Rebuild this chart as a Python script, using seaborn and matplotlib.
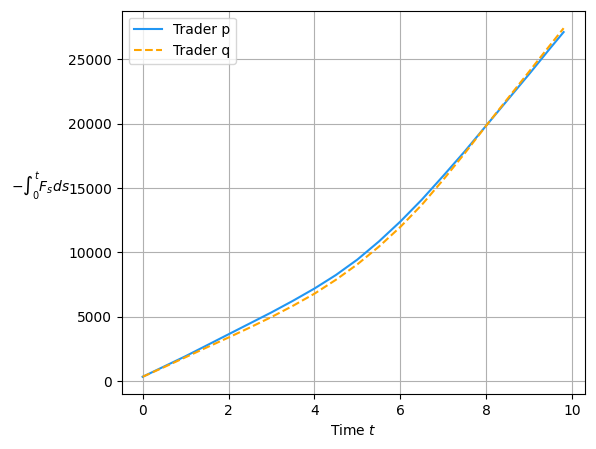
import pandas as pd
import numpy as np
import matplotlib
matplotlib.use("Agg")
import matplotlib.pyplot as plt
import seaborn as sns

# time grid and cumulative values
t = [0, 0.5, 1, 1.5, 2, 2.5, 3, 3.5, 4, 4.5, 5, 5.5, 6, 6.5, 7, 7.5, 8, 8.5, 9, 9.5, 9.8]
trader_p = [350, 1150, 1950, 2800, 3650, 4500, 5350, 6250, 7200, 8250, 9450, 10850,
            12400, 14100, 15950, 17850, 19850, 21850, 23850, 25900, 27100]
trader_q = [350, 1100, 1870, 2640, 3400, 4180, 4990, 5860, 6800, 7880, 9080, 10450,
            11980, 13700, 15650, 17700, 19850, 21950, 24050, 26150, 27400]

df = pd.DataFrame({"t": t, "p": trader_p, "q": trader_q})

fig, ax = plt.subplots(figsize=(5.96, 4.49), dpi=100)
fig.subplots_adjust(left=0.204, right=0.981, top=0.976, bottom=0.122)

sns.lineplot(data=df, x="t", y="p", ax=ax, color="#2196f3", label="Trader p")
sns.lineplot(data=df, x="t", y="q", ax=ax, color="orange", linestyle="--", label="Trader q")

ax.set_xlabel("Time $t$")
ax.set_ylabel(r"$-\int_0^t F_s ds$", rotation=0, labelpad=20)
ax.grid(True)
ax.legend(loc="upper left")

plt.savefig("out.png", dpi=100)
